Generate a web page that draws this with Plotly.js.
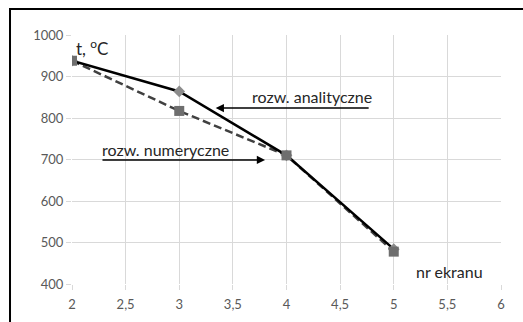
<!DOCTYPE html>
<html>
<head>
<meta charset="utf-8">
<script src="https://cdn.plot.ly/plotly-3.0.1.min.js"></script>
<style>
html,body{margin:0;padding:0;background:#fff;}
#chart{width:523px;height:322px;}
</style>
</head>
<body>
<div id="chart"></div>
<script>
// Data
const screens = [2, 3, 4, 5];
const analytical = [938, 864, 710, 484];
const numerical = [938, 817, 710, 478];
const xTickVals = [2, 2.5, 3, 3.5, 4, 4.5, 5, 5.5, 6];
const xTickText = ['2', '2,5', '3', '3,5', '4', '4,5', '5', '5,5', '6'];
const yTickVals = [400, 500, 600, 700, 800, 900, 1000];
const labelAnalytical = 'rozw. analityczne';
const labelNumerical = 'rozw. numeryczne';
const yTitle = 't, <sup>o</sup>C';
const xTitle = 'nr ekranu';

const FONT = 'Lato, "Open Sans", sans-serif';
const TXT = '#262626';

const traces = [
  {
    x: screens, y: numerical, type: 'scatter', mode: 'lines',
    line: {color: '#404040', width: 2.5, dash: '8px,4px'},
    showlegend: false, hoverinfo: 'skip'
  },
  {
    x: screens, y: analytical, type: 'scatter', mode: 'lines+markers',
    line: {color: '#000000', width: 2.5},
    marker: {symbol: 'diamond', size: 9, color: '#8c8c8c'},
    showlegend: false, hoverinfo: 'skip'
  },
  {
    x: screens, y: numerical, type: 'scatter', mode: 'markers',
    marker: {symbol: 'square', size: 10, color: '#6e6e6e'},
    showlegend: false, hoverinfo: 'skip'
  }
];

const layout = {
  width: 523, height: 322,
  margin: {l: 72, r: 22, t: 35, b: 38},
  paper_bgcolor: '#ffffff', plot_bgcolor: '#ffffff',
  font: {family: FONT, color: '#595959', size: 13},
  showlegend: false,
  xaxis: {
    range: [2, 6], tickvals: xTickVals, ticktext: xTickText,
    showgrid: true, gridcolor: '#d9d9d9', gridwidth: 1,
    zeroline: false, showline: false,
    ticks: 'outside', ticklen: 5, tickcolor: '#d9d9d9', tickwidth: 1,
    ticklabelstandoff: 3,
    tickfont: {family: FONT, size: 13, color: '#595959'},
    fixedrange: true
  },
  yaxis: {
    range: [400, 1000], tickvals: yTickVals,
    showgrid: true, gridcolor: '#d9d9d9', gridwidth: 1,
    zeroline: false, showline: false,
    ticks: 'outside', ticklen: 5, tickcolor: '#d9d9d9', tickwidth: 1,
    tickfont: {family: FONT, size: 13, color: '#595959'},
    fixedrange: true
  },
  shapes: [
    {type: 'rect', xref: 'paper', yref: 'paper',
     x0: -0.1445, x1: 1.2, y0: -0.3, y1: 1.104,
     line: {color: '#000000', width: 2}, fillcolor: 'rgba(0,0,0,0)', layer: 'above'}
  ],
  annotations: [
    {x: 2.02, y: 971, xref: 'x', yref: 'y', text: yTitle, showarrow: false,
     xanchor: 'left', yanchor: 'middle', font: {family: FONT, size: 17, color: TXT}},
    {x: 5.19, y: 429, xref: 'x', yref: 'y', text: xTitle, showarrow: false,
     xanchor: 'left', yanchor: 'middle', font: {family: FONT, size: 16, color: TXT}},
    {x: 3.66, y: 851, xref: 'x', yref: 'y', text: labelAnalytical, showarrow: false,
     xanchor: 'left', yanchor: 'middle', font: {family: FONT, size: 16, color: TXT}},
    {x: 2.26, y: 723, xref: 'x', yref: 'y', text: labelNumerical, showarrow: false,
     xanchor: 'left', yanchor: 'middle', font: {family: FONT, size: 16, color: TXT}},
    {x: 3.34, y: 824, ax: 4.78, ay: 824, xref: 'x', yref: 'y', axref: 'x', ayref: 'y',
     text: '', showarrow: true, arrowhead: 2, arrowsize: 1.1, arrowwidth: 1.5, arrowcolor: '#000000'},
    {x: 3.8, y: 699, ax: 2.27, ay: 699, xref: 'x', yref: 'y', axref: 'x', ayref: 'y',
     text: '', showarrow: true, arrowhead: 2, arrowsize: 1.1, arrowwidth: 1.5, arrowcolor: '#000000'}
  ]
};

Plotly.newPlot('chart', traces, layout, {staticPlot: true, displayModeBar: false});
</script>
</body>
</html>
